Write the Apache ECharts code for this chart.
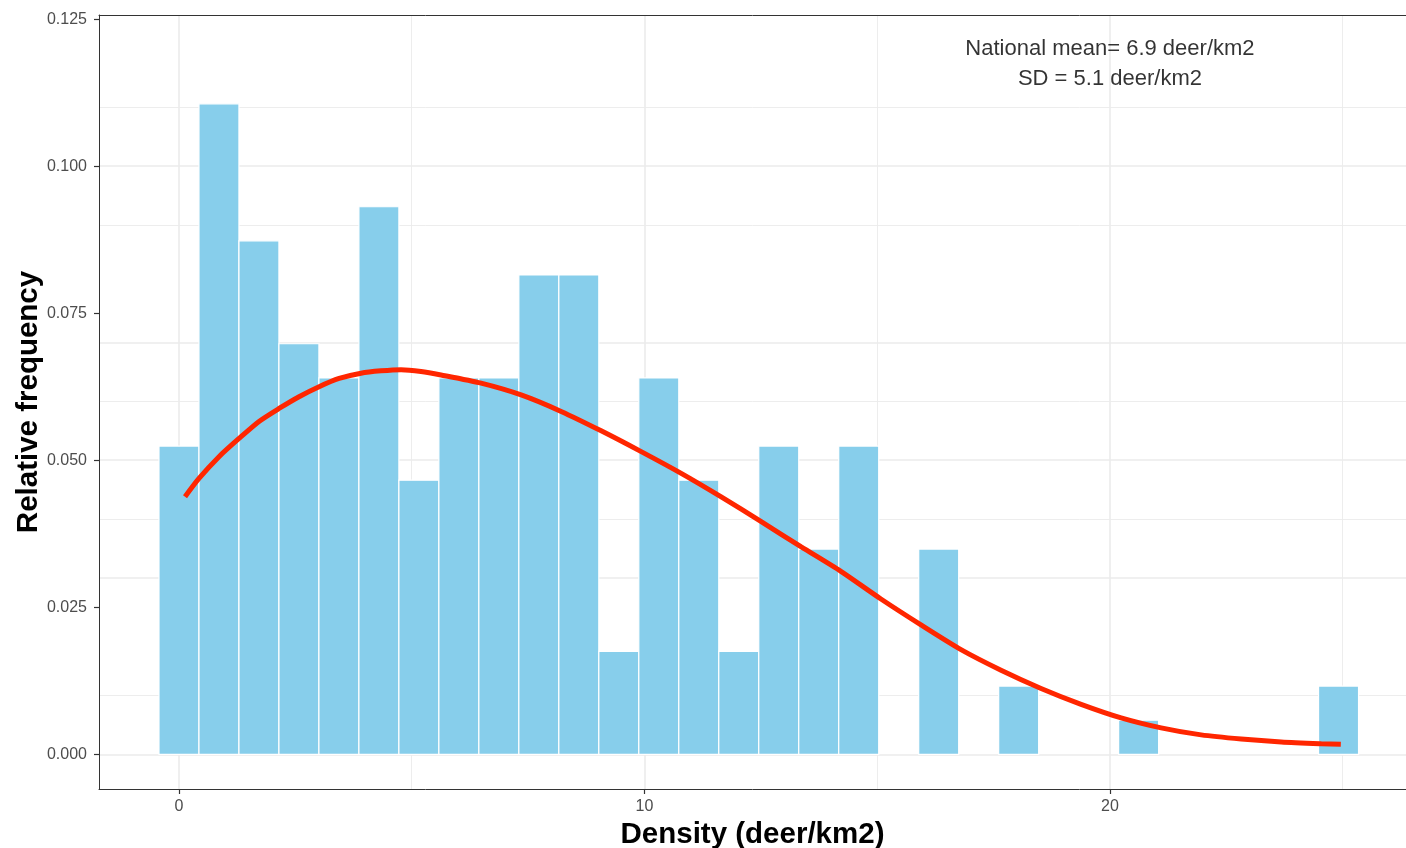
<!DOCTYPE html>
<html><head><meta charset="utf-8">
<script src="https://cdn.jsdelivr.net/npm/echarts@6/dist/echarts.min.js"></script>
<style>html,body{margin:0;padding:0;background:#fff}#c{width:1406px;height:848px}</style>
</head><body><div id="c"></div>
<script>
// Histogram bins (bin centres, deer/km2) and relative frequency per bin
const binWidth = 0.859;
const binCenters = [0, 0.859, 1.718, 2.577, 3.436, 4.295, 5.154, 6.013, 6.872, 7.731,
  8.590, 9.449, 10.308, 11.167, 12.026, 12.885, 13.744, 14.603, 15.462, 16.321,
  17.180, 18.039, 18.898, 19.757, 20.616, 21.475, 22.334, 23.193, 24.052, 24.911];
const relFreq = [0.0524, 0.1106, 0.0873, 0.0698, 0.0640, 0.0931, 0.0466, 0.0640, 0.0640, 0.0815,
  0.0815, 0.0175, 0.0640, 0.0466, 0.0175, 0.0524, 0.0349, 0.0524, 0, 0.0349,
  0, 0.0116, 0, 0, 0.0058, 0, 0, 0, 0, 0.0116];
// Fitted curve
const curveX = [0.13, 0.43, 0.86, 1.29, 1.72, 2.15, 2.58, 3.01, 3.44, 3.91, 4.34, 4.77, 5.20,
  5.63, 6.49, 7.35, 8.21, 9.07, 9.92, 10.78, 11.64, 12.50, 13.36, 14.22, 15.08, 15.94, 16.80,
  17.66, 18.52, 19.38, 20.24, 21.10, 21.96, 22.82, 23.68, 24.54, 24.96];
const curveY = [0.0438, 0.0469, 0.0506, 0.0537, 0.0566, 0.0588, 0.0608, 0.0625, 0.0639, 0.0648,
  0.0652, 0.0654, 0.0651, 0.0645, 0.0631, 0.0611, 0.0583, 0.0550, 0.0515, 0.0478, 0.0438,
  0.0396, 0.0353, 0.0311, 0.0264, 0.0220, 0.0178, 0.0143, 0.0112, 0.0085, 0.0062, 0.0045,
  0.0033, 0.0026, 0.0021, 0.0018, 0.0017];
// Axis ticks and gridlines
const xTicks = [0, 10, 20];
const xMinor = [5, 15, 25];
const yTicks = [0, 0.025, 0.05, 0.075, 0.1, 0.125];
const yMinor = [0.0125, 0.0375, 0.0625, 0.0875, 0.1125];
const annotation = { x: 20, y: 0.1174, lines: ['National mean= 6.9 deer/km2', 'SD = 5.1 deer/km2'] };

const FONT = '"Liberation Sans", Arial, Helvetica, sans-serif';
const gridMajor = { color: '#ebebeb', width: 1.6, type: 'solid' };
const gridMinor = { color: '#ebebeb', width: 0.9, type: 'solid' };

const markData = [];
xTicks.forEach(v => markData.push({ xAxis: v, lineStyle: gridMajor }));
xMinor.forEach(v => markData.push({ xAxis: v, lineStyle: gridMinor }));
yTicks.forEach(v => markData.push({ yAxis: v, lineStyle: gridMajor }));
yMinor.forEach(v => markData.push({ yAxis: v, lineStyle: gridMinor }));

const barData = binCenters.map((c, i) => [c, relFreq[i]]).filter(d => d[1] > 0);
const curveData = curveX.map((x, i) => [x, curveY[i]]);

const X_MIN = -1.718, X_MAX = 26.36;
const chart = echarts.init(document.getElementById('c'), null, { renderer: 'canvas' });
chart.setOption({
  animation: false,
  backgroundColor: '#fff',
  textStyle: { fontFamily: FONT },
  grid: { left: 99, right: 0, top: 15, bottom: 59, show: false, containLabel: false, outerBoundsMode: 'none' },
  xAxis: [{
    type: 'value', min: X_MIN, max: X_MAX, position: 'bottom',
    name: 'Density (deer/km2)', nameLocation: 'middle', nameGap: 30,
    nameTextStyle: { fontFamily: FONT, fontSize: 29.5, fontWeight: 'bold', color: '#000' },
    axisLine: { show: true, onZero: false, lineStyle: { color: '#333', width: 1 } },
    axisTick: { show: true, length: 5, customValues: xTicks, lineStyle: { color: '#333', width: 1.2 } },
    axisLabel: { customValues: xTicks, fontSize: 16, color: '#4d4d4d', margin: 10, fontFamily: FONT },
    splitLine: { show: false }
  }, {
    type: 'value', min: X_MIN, max: X_MAX, position: 'top',
    axisLine: { show: true, onZero: false, lineStyle: { color: '#333', width: 1 } },
    axisTick: { show: false }, axisLabel: { show: false }, splitLine: { show: false }
  }],
  yAxis: {
    type: 'value', min: -0.0059, max: 0.1257,
    name: 'Relative frequency', nameLocation: 'middle', nameGap: 55, nameMoveOverlap: false,
    nameTextStyle: { fontFamily: FONT, fontSize: 29.5, fontWeight: 'bold', color: '#000' },
    axisLine: { show: true, onZero: false, lineStyle: { color: '#333', width: 1 } },
    axisTick: { show: true, length: 5, customValues: yTicks, lineStyle: { color: '#333', width: 1.2 } },
    axisLabel: { customValues: yTicks, fontSize: 16, color: '#4d4d4d', margin: 12, fontFamily: FONT,
      formatter: v => v.toFixed(3) },
    splitLine: { show: false }
  },
  series: [
    {
      type: 'line', data: [], z: 0, silent: true,
      markLine: { z: 0, silent: true, symbol: ['none', 'none'], label: { show: false }, animation: false, data: markData }
    },
    {
      type: 'custom', z: 2, data: barData,
      renderItem: (params, api) => {
        const x = api.value(0), y = api.value(1);
        const p0 = api.coord([x - binWidth / 2, y]);
        const p1 = api.coord([x + binWidth / 2, 0]);
        return { type: 'rect', shape: { x: p0[0], y: p0[1], width: p1[0] - p0[0], height: p1[1] - p0[1] },
          style: { fill: '#87CEEB', stroke: '#ffffff', lineWidth: 1.2 } };
      }
    },
    {
      type: 'line', z: 3, data: curveData, smooth: 0.25, showSymbol: false, symbol: 'none',
      lineStyle: { color: '#ff2600', width: 5, cap: 'butt' }
    },
    {
      type: 'scatter', z: 4, data: [[annotation.x, annotation.y]], symbolSize: 0,
      itemStyle: { color: 'transparent' },
      label: { show: true, position: 'inside', formatter: annotation.lines.join('\n'),
        fontSize: 22, lineHeight: 30, color: '#000', fontFamily: FONT, align: 'center' }
    }
  ]
});
</script></body></html>
